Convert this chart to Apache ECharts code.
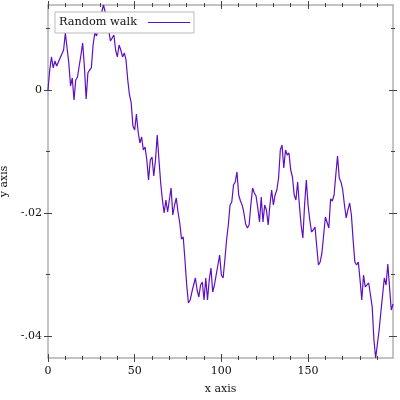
<!DOCTYPE html>
<html>
<head>
<meta charset="utf-8">
<script src="https://cdn.jsdelivr.net/npm/echarts@6/dist/echarts.min.js"></script>
<style>
  html, body { margin: 0; padding: 0; background: #fff; }
  #chart { width: 400px; height: 400px; }
</style>
</head>
<body>
<div id="chart"></div>
<script>
// random walk (x = step index)
var walk = [
  0, 0.00325, 0.00537, 0.00358, 0.00472, 0.00390, 0.00407, 0.00520, 0.00585, 0.00650,
  0.00927, 0.00683, 0.00439, 0.00065, 0.00195, -0.00163, 0.00163, 0.00211, 0.00390, 0.00569,
  0.00764, 0.00374, -0.00146, 0.00276, 0.00325, 0.00358, 0.00732, 0.00927, 0.00878, 0.01008,
  0.01138, 0.01268, 0.01382, 0.01268, 0.01268, 0.00976, 0.00797, 0.00813, 0.00894, 0.00650,
  0.00537, 0.00732, 0.00650, 0.00537, 0.00602, 0.00488, 0.00163, -0.00081, -0.00211, -0.00585,
  -0.00650, -0.00390, -0.00683, -0.00862, -0.00764, -0.00976, -0.00927, -0.01138, -0.01463, -0.01138,
  -0.01089, -0.01398, -0.01138, -0.00732, -0.01138, -0.01512, -0.01789, -0.02000, -0.01789, -0.01984,
  -0.01789, -0.01593, -0.02033, -0.01870, -0.01756, -0.01984, -0.02163, -0.02423, -0.02390, -0.02764,
  -0.03171, -0.03463, -0.03415, -0.03285, -0.03171, -0.03057, -0.03252, -0.03366, -0.03171, -0.03122,
  -0.03415, -0.03057, -0.03415, -0.03089, -0.02894, -0.03285, -0.03171, -0.03008, -0.02846, -0.02683,
  -0.03008, -0.03057, -0.02764, -0.02439, -0.02195, -0.01870, -0.01821, -0.01545, -0.01496, -0.01333,
  -0.01707, -0.01805, -0.01870, -0.02000, -0.02179, -0.02244, -0.02195, -0.01870, -0.01593, -0.01675,
  -0.01724, -0.01919, -0.02146, -0.01740, -0.02146, -0.01870, -0.01951, -0.02195, -0.01870, -0.01626,
  -0.01870, -0.01707, -0.01626, -0.01431, -0.00976, -0.00894, -0.01268, -0.00976, -0.01057, -0.01024,
  -0.01301, -0.01415, -0.01707, -0.01789, -0.01496, -0.01870, -0.02195, -0.02407, -0.01870, -0.01463,
  -0.01870, -0.02114, -0.02309, -0.02276, -0.02228, -0.02228, -0.02846, -0.02797, -0.02650, -0.02358,
  -0.02065, -0.02033, -0.02244, -0.01772, -0.01805, -0.01707, -0.01382, -0.01073, -0.01431, -0.01496,
  -0.01626, -0.01870, -0.02081, -0.01951, -0.01837, -0.02033, -0.02439, -0.02797, -0.02846, -0.02797,
  -0.03089, -0.03415, -0.03008, -0.03203, -0.03220, -0.03138, -0.03333, -0.03528, -0.04065, -0.04358,
  -0.04341, -0.03902, -0.03610, -0.03333, -0.03057, -0.03171, -0.02829, -0.02797, -0.03577, -0.03480
];

var xMajor = [0, 50, 100, 150];
var xMinor = [10, 20, 30, 40, 60, 70, 80, 90, 110, 120, 130, 140, 160, 170, 180, 190];
var yMajor = [0, -0.02, -0.04];
var yMinor = [0.01, -0.01, -0.03];

var font = 'DejaVu Serif';
var lineColor = '#b0b0b0';
var tickColor = '#444';

var pts = walk.map(function (v, i) { return [i, v]; });
var yMin = Math.min.apply(null, walk);
var yMax = Math.max.apply(null, walk);

function yFmt(v) {
    if (Math.abs(v) < 1e-12) return '0';
    var s = String(Math.abs(Number(v.toFixed(4)))).replace(/^0/, '');
    return (v < 0 ? '-' : '') + s;
}

// four axes per side so ticks straddle the frame line like the original
function sideAxes(kind, pos, major, minor, extra) {
    var base = kind === 'x' ? { min: 0, max: walk.length - 1 } : { min: yMin, max: yMax };
    var list = [];
    [[major, 4, false], [major, 4, true], [minor, 2, false], [minor, 2, true]].forEach(function (t, k) {
        var a = {
            type: 'value',
            position: pos,
            min: base.min,
            max: base.max,
            splitLine: { show: false },
            axisLine: { show: k === 0, onZero: false, lineStyle: { color: lineColor, width: 1.5 } },
            axisTick: { show: true, customValues: t[0], length: t[1], inside: t[2],
                        lineStyle: { color: tickColor, width: 1 } },
            axisLabel: { show: false }
        };
        if (k === 0 && extra) {
            for (var key in extra) a[key] = extra[key];
        }
        list.push(a);
    });
    return list;
}

var xAxes = sideAxes('x', 'bottom', xMajor, xMinor, {
    name: 'x axis',
    nameLocation: 'middle',
    nameGap: 26,
    nameTextStyle: { fontFamily: font, fontSize: 11, color: '#111' },
    axisLabel: { show: true, customValues: xMajor, margin: 8,
                 fontFamily: font, fontSize: 11, color: '#111' }
}).concat(sideAxes('x', 'top', xMajor, xMinor));

var yAxes = sideAxes('y', 'left', yMajor, yMinor, {
    name: 'y axis',
    nameLocation: 'middle',
    nameGap: 34,
    nameTextStyle: { fontFamily: font, fontSize: 11, color: '#111' },
    axisLabel: { show: true, customValues: yMajor, margin: 6, formatter: yFmt,
                 fontFamily: font, fontSize: 11, color: '#111' }
}).concat(sideAxes('y', 'right', yMajor, yMinor));

var chart = echarts.init(document.getElementById('chart'), null, { renderer: 'canvas' });

chart.setOption({
    animation: false,
    backgroundColor: '#fff',
    grid: { left: 48, right: 7, top: 5, bottom: 42, containLabel: false, outerBoundsMode: 'none' },
    legend: {
        left: 55,
        top: 12,
        align: 'right',
        padding: [5, 4, 5, 4],
        backgroundColor: '#fff',
        borderColor: '#bbb',
        borderWidth: 1,
        icon: 'rect',
        itemWidth: 42,
        itemHeight: 1,
        textStyle: { fontFamily: font, fontSize: 11.3, color: '#111', padding: [0, 6, 0, 0] },
        data: ['Random walk']
    },
    xAxis: xAxes,
    yAxis: yAxes,
    series: [{
        name: 'Random walk',
        type: 'line',
        xAxisIndex: 0,
        yAxisIndex: 0,
        data: pts,
        showSymbol: false,
        symbol: 'none',
        lineStyle: { color: '#5e0fc4', width: 1.2 },
        itemStyle: { color: '#5e0fc4' }
    }]
});
</script>
</body>
</html>
